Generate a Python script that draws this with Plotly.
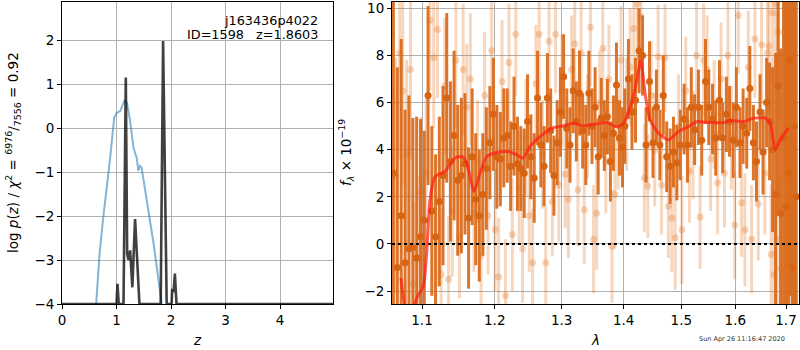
import plotly.graph_objects as go

# ---------------- left panel: p(z) ----------------
blue_z = [0.61, 0.628, 0.689, 0.75, 0.811, 0.884, 0.957, 1.006, 1.067, 1.14, 1.19, 1.25, 1.31, 1.37, 1.40, 1.43, 1.46, 1.55, 1.68, 1.83, 1.85]
blue_lnp = [-4.3, -4.0, -2.86, -2.1, -1.50, -0.67, 0.24, 0.35, 0.39, 0.62, 0.58, 0.16, -0.44, -0.67, -0.97, -0.86, -0.90, -1.65, -2.63, -4.0, -4.3]

black_z = [0.0, 1.0, 1.018, 1.04, 1.128, 1.17, 1.195, 1.22, 1.25, 1.29, 1.34, 1.42, 1.81, 1.854, 1.92, 2.01, 2.02, 2.045, 2.055, 2.07, 2.10, 4.97]
black_lnp = [-4.0, -4.0, -3.54, -4.0, -4.0, 1.15, -2.86, -3.0, -2.78, -3.62, -2.07, -4.0, -4.0, 1.98, -4.0, -4.0, -3.69, -3.7, -3.58, -3.31, -4.0, -4.0]

# ---------------- right panel: spectrum ----------------
model_lam = [1.0727, 1.0800, 1.0870, 1.0930, 1.1017, 1.1062, 1.1106, 1.1172, 1.1307, 1.1443, 1.1535,
             1.1604, 1.1706, 1.1790, 1.1885, 1.2028, 1.2197, 1.2320, 1.2409, 1.2518, 1.2669,
             1.2848, 1.3028, 1.3185, 1.3344, 1.3559, 1.3722, 1.3887, 1.3998, 1.4110, 1.4224,
             1.4289, 1.4363, 1.4450, 1.4595, 1.4771, 1.4949, 1.5129, 1.5281, 1.5524, 1.5774,
             1.5901, 1.6156, 1.6351, 1.6581, 1.6681, 1.6781, 1.6882, 1.7050]
model_flux = [-1.44, -2.9, -2.8, -2.3, -1.8, -0.37, 1.88, 2.86, 3.08, 3.65, 3.71,
              3.43, 2.23, 3.0, 3.71, 3.88, 3.92, 3.78, 3.64, 4.14, 4.56,
              4.92, 5.01, 5.12, 5.01, 5.10, 5.15, 4.96, 5.12, 5.83, 6.96,
              7.81, 6.40, 5.27, 4.70, 4.42, 4.77, 4.98, 5.19, 5.15, 5.15,
              5.24, 5.19, 5.34, 5.34, 5.12, 4.0, 4.42, 4.92]

dark_lam = [1.063, 1.068, 1.073, 1.078, 1.083, 1.088, 1.093, 1.098,
            1.103, 1.108, 1.113, 1.118, 1.123, 1.128, 1.133, 1.138, 1.143, 1.148,
            1.153, 1.158, 1.163, 1.168, 1.173, 1.178, 1.183, 1.188, 1.193, 1.198,
            1.203, 1.208, 1.213, 1.218, 1.223, 1.228, 1.233, 1.238, 1.243, 1.248,
            1.253, 1.258, 1.263, 1.268, 1.273, 1.278, 1.283, 1.288, 1.293, 1.298,
            1.303, 1.308, 1.313, 1.318, 1.323, 1.328, 1.333, 1.338, 1.343, 1.348,
            1.353, 1.358, 1.363, 1.368, 1.373, 1.378, 1.383, 1.388, 1.393, 1.398,
            1.402, 1.408, 1.414, 1.420, 1.426, 1.432, 1.438, 1.444, 1.450, 1.456,
            1.462, 1.468, 1.474, 1.480, 1.486, 1.492, 1.498,
            1.505, 1.511, 1.518, 1.524, 1.531, 1.537, 1.544, 1.550, 1.557, 1.563,
            1.570, 1.576, 1.583, 1.589, 1.596, 1.602, 1.609, 1.615, 1.622, 1.628,
            1.635, 1.641, 1.648, 1.654, 1.661,
            1.667, 1.673, 1.679, 1.684, 1.689, 1.695, 1.700, 1.705, 1.709, 1.713, 1.717, 1.721]
dark_flux = [3.0, -1.0, 1.2, -0.8, -0.2, -0.15, -0.6, 0.3,
             1.0, 6.3, 1.4, 0.3, 1.8, 2.9, 6.2, 3.5, 4.6, 2.7,
             2.9, 3.4, 1.1, 3.7, 1.9, 1.2, 2.1, 3.2, 4.3, 5.5,
             3.7, 3.6, 4.5, 4.6, 3.3, 5.0, 3.4, 3.2, 3.0, 5.2,
             3.7, 2.8, 6.2, 4.2, 3.3, 6.2, 4.8, 2.9, 4.3, 5.6,
             7.1, 4.9, 4.2, 6.5, 5.2, 6.4, 4.8, 4.2, 6.4, 5.0,
             5.8, 3.7, 5.35, 4.6, 5.4, 3.5, 4.7, 6.75, 4.5, 4.1,
             5.0, 7.0, 5.6, 6.1, 8.2, 8.0, 4.2, 6.9, 4.3, 5.8,
             4.2, 6.3, 3.7, 3.3, 3.9, 3.45, 4.2,
             5.3, 4.2, 5.8, 4.85, 5.8, 4.4, 6.9, 5.8, 5.3, 4.5,
             6.1, 4.5, 5.5, 5.2, 4.4, 5.8, 4.3, 5.0, 4.7, 6.6,
             4.3, 3.5, 5.6, 3.9, 6.0,
             5.2, 4.0, 2.1, 6.7, 1.3, 4.5, 1.6, 3.0, 7.8, -1.0, 5.0, 2.0]
dark_err = [12.0, 8.5, 7.5, 6.5, 6.5, 5.5, 6.0, 5.0,
            3.8, 3.8, 3.6, 3.5, 3.6, 3.8, 3.6, 3.4, 3.6, 3.2,
            3.3, 3.0, 3.0, 2.9, 2.8, 2.8, 2.6, 2.6, 2.4, 2.4,
            2.2, 2.0, 2.1, 2.0, 1.9, 2.1, 2.0, 1.8, 1.9, 2.0,
            1.8, 1.9, 2.0, 1.8, 1.7, 1.9, 1.8, 1.7, 1.8, 1.9,
            1.8, 1.7, 1.6, 1.8, 1.7, 1.8, 1.6, 1.7, 1.8, 1.6,
            1.7, 1.6, 1.7, 1.5, 1.6, 1.7, 1.6, 1.8, 1.6, 1.7,
            1.6, 1.7, 1.6, 1.8, 1.8, 1.7, 1.6, 1.7, 1.5, 1.6,
            1.5, 1.7, 1.5, 1.6, 1.5, 1.6, 1.5,
            1.5, 1.6, 1.7, 1.5, 1.6, 1.5, 1.8, 1.6, 1.5, 1.6,
            1.7, 1.5, 1.6, 1.5, 1.6, 1.7, 1.5, 1.6, 1.5, 1.8,
            1.6, 1.7, 1.6, 1.8, 1.9,
            2.5, 3.5, 6.0, 5.5, 7.0, 8.0, 9.0, 9.0, 10.0, 12.0, 12.0, 12.0]

light_lam = [1.066, 1.071, 1.075, 1.080, 1.085, 1.089, 1.094, 1.099,
             1.1005, 1.1055, 1.1105, 1.1155, 1.1205, 1.1255, 1.1305, 1.1355, 1.1405, 1.1455,
             1.1505, 1.1555, 1.1605, 1.1655, 1.1705, 1.1755, 1.1805, 1.1855, 1.1905, 1.1955,
             1.2005, 1.2055, 1.2105, 1.2155, 1.2205, 1.2255, 1.2305, 1.2355, 1.2405, 1.2455,
             1.2505, 1.2555, 1.2605, 1.2655, 1.2705, 1.2755, 1.2805, 1.2855, 1.2905, 1.2955,
             1.3005, 1.3055, 1.3105, 1.3155, 1.3205, 1.3255, 1.3305, 1.3355, 1.3405, 1.3455,
             1.3505, 1.3555, 1.3605, 1.3655, 1.3705, 1.3755, 1.3805, 1.3855, 1.3905, 1.3955,
             1.405, 1.411, 1.417, 1.423, 1.429, 1.435, 1.441, 1.447, 1.453, 1.459,
             1.465, 1.471, 1.477, 1.483, 1.489, 1.495, 1.501,
             1.508, 1.5145, 1.521, 1.5275, 1.534, 1.5405, 1.547, 1.5535, 1.560, 1.5665,
             1.573, 1.5795, 1.586, 1.5925, 1.599, 1.6055, 1.612, 1.6185, 1.625, 1.6315,
             1.638, 1.6445, 1.651, 1.6575, 1.663,
             1.666, 1.670, 1.673, 1.676, 1.679, 1.682, 1.685, 1.690, 1.696, 1.702, 1.708, 1.714]
light_flux = [2.9, 8.1, 6.5, 3.8, 7.4, -1.7, -0.6, 2.2,
              -0.6, 3.0, 9.5, 7.9, 9.1, -1.3, 6.7, -1.5, 1.4, 7.8,
              0.3, 7.4, 5.8, 7.0, 1.3, 3.5, -0.5, 6.3, 1.2, 8.2,
              0.6, -1.4, 6.9, -2.2, 7.7, 0.4, 8.9, 2.4, -0.2, 4.5,
              1.2, -0.8, 6.8, 8.9, 3.8, -0.8, 8.6, 1.8, 8.9, 2.5,
              6.5, 2.96, 1.9, 7.4, 8.5, 2.3, 8.1, 1.45, 5.0, 9.2,
              0.2, 1.3, 6.0, 8.3, 3.5, 7.0, -0.1, 2.1, 4.5, 7.8,
              5.5, 7.5, 9.15, 10.2, 9.65, 2.8, 2.45, 6.3, 4.0, 7.95,
              2.5, 7.9, 1.6, 1.1, 0.26, 5.0, 0.6,
              6.5, 3.1, 4.2, 8.0, 1.14, 7.8, 7.4, 3.6, 5.5, 2.6,
              7.0, 3.0, 8.0, 4.5, 0.8, 9.7, 1.75, 0.6, 7.5, 0.2,
              8.7, 1.7, 8.45, 3.0, 8.1,
              8.4, -0.45, 9.8, -1.3, 10.2, 0.2, 9.0, -1.05, 8.0, 5.0, 3.0, 6.0]
light_err = [5.0, 4.5, 4.0, 4.0, 3.8, 3.5, 3.5, 3.2,
             3.5, 3.2, 3.0, 3.0, 2.9, 2.8, 2.9, 2.7, 2.8, 2.9,
             2.6, 2.8, 2.7, 2.8, 2.5, 2.6, 2.5, 2.7, 2.5, 2.6,
             2.6, 2.5, 2.6, 2.4, 2.5, 2.4, 2.6, 2.4, 2.3, 2.5,
             2.4, 2.3, 2.5, 2.6, 2.3, 2.4, 2.6, 2.3, 2.5, 2.4,
             2.4, 2.3, 2.5, 2.3, 2.5, 2.4, 2.4, 2.3, 2.2, 2.5,
             2.3, 2.4, 2.2, 2.4, 2.2, 2.3, 2.4, 2.3, 2.2, 2.3,
             2.4, 2.5, 2.5, 2.4, 2.2, 2.3, 2.2, 2.3, 2.4, 2.2,
             2.1, 2.3, 2.2, 2.3, 2.2, 2.2, 2.3,
             2.3, 2.2, 2.3, 2.4, 2.2, 2.4, 2.3, 2.2, 2.3, 2.2,
             2.4, 2.3, 2.4, 2.2, 2.3, 2.5, 2.3, 2.4, 2.4, 2.3,
             2.5, 2.4, 2.5, 2.6, 2.7,
             2.8, 3.0, 3.0, 3.2, 3.5, 3.5, 3.8, 4.0, 5.0, 6.0, 7.0, 8.0]

assert len(dark_lam) == len(dark_flux) == len(dark_err)
assert len(light_lam) == len(light_flux) == len(light_err)

lam_range = [1.0612, 1.7267]
lam_ticks = [1.1, 1.2, 1.3, 1.4, 1.5, 1.6, 1.7]
flux_ticks = [-2, 0, 2, 4, 6, 8, 10]
z_ticks = [0, 1, 2, 3, 4]
lnp_ticks = [-4, -3, -2, -1, 0, 1, 2]

FONT = "DejaVu Sans"
DARK = "rgba(217,104,24,0.92)"
LIGHT = "rgba(230,120,40,0.3)"

fig = go.Figure()

fig.add_trace(go.Scatter(x=blue_z, y=blue_lnp, mode="lines",
                         line=dict(color="rgba(31,119,180,0.55)", width=2),
                         xaxis="x", yaxis="y", showlegend=False))
fig.add_trace(go.Scatter(x=black_z, y=black_lnp, mode="lines",
                         line=dict(color="rgba(0,0,0,0.75)", width=2.6),
                         xaxis="x", yaxis="y", showlegend=False))

fig.add_trace(go.Scatter(x=light_lam, y=light_flux, mode="markers",
                         marker=dict(size=7, color=LIGHT, line=dict(width=0)),
                         error_y=dict(type="data", array=light_err, visible=True,
                                      thickness=3, width=0, color=LIGHT),
                         xaxis="x2", yaxis="y2", showlegend=False))
fig.add_trace(go.Scatter(x=dark_lam, y=dark_flux, mode="markers",
                         marker=dict(size=7, color="rgb(214,100,18)", line=dict(width=0)),
                         error_y=dict(type="data", array=dark_err, visible=True,
                                      thickness=3, width=0, color=DARK),
                         xaxis="x2", yaxis="y2", showlegend=False))
fig.add_trace(go.Scatter(x=lam_range, y=[0, 0], mode="lines",
                         line=dict(color="black", width=2, dash="dot"),
                         xaxis="x2", yaxis="y2", showlegend=False))
fig.add_trace(go.Scatter(x=model_lam, y=model_flux, mode="lines",
                         line=dict(color="rgba(255,30,20,0.72)", width=3, shape="spline", smoothing=0.6),
                         xaxis="x2", yaxis="y2", showlegend=False))

ydom = [46 / 350, 348 / 350]
common = dict(showgrid=True, gridcolor="#b0b0b0", gridwidth=1, zeroline=False,
              showline=True, linecolor="black", linewidth=1, mirror=True,
              ticks="outside", ticklen=4, tickwidth=1, tickcolor="black",
              automargin=False, tickfont=dict(family=FONT, size=13.5, color="black"))

fig.update_layout(
    width=800, height=350,
    margin=dict(l=0, r=0, t=0, b=0),
    paper_bgcolor="white", plot_bgcolor="white",
    xaxis=dict(domain=[62 / 800, 333 / 800], range=[0, 4.97], tickvals=z_ticks, anchor="y", **common),
    yaxis=dict(domain=ydom, range=[-4, 2.87], tickvals=lnp_ticks, anchor="x", **common),
    xaxis2=dict(domain=[392 / 800, 799 / 800], type="log",
                range=[0.02581, 0.23720], tickvals=lam_ticks,
                ticktext=[f"{v:.1f}" for v in lam_ticks], anchor="y2", **common),
    yaxis2=dict(domain=ydom, range=[-2.55, 10.27], tickvals=flux_ticks, anchor="x2", **common),
    font=dict(family=FONT, size=13.5, color="black"),
)

ann_font = dict(family=FONT, size=12.8, color="black")
fig.add_annotation(x=320 / 800, y=1 - 20 / 350, xref="paper", yref="paper",
                   text="j163436p4022", showarrow=False, xanchor="right", yanchor="middle", font=ann_font)
fig.add_annotation(x=320 / 800, y=1 - 35 / 350, xref="paper", yref="paper",
                   text="ID=1598\u00a0\u00a0\u00a0z=1.8603", showarrow=False, xanchor="right", yanchor="middle", font=ann_font)
title_font = dict(family=FONT, size=13.5, color="black")
fig.add_annotation(x=197 / 800, y=1 - 340 / 350, xref="paper", yref="paper",
                   text="<i>z</i>", showarrow=False, xanchor="center", yanchor="middle", font=title_font)
fig.add_annotation(x=595 / 800, y=1 - 340 / 350, xref="paper", yref="paper",
                   text="<i>λ</i>", showarrow=False, xanchor="center", yanchor="middle", font=title_font)
fig.add_annotation(x=13 / 800, y=1 - 153 / 350, xref="paper", yref="paper",
                   text="log <i>p</i>(<i>z</i>) / <i>χ</i><sup>2</sup> = <sup>6976</sup>/<sub>7556</sub> = 0.92",
                   showarrow=False, textangle=-90, xanchor="center", yanchor="middle", font=title_font)
fig.add_annotation(x=346 / 800, y=1 - 153 / 350, xref="paper", yref="paper",
                   text="<i>f</i><sub><i>λ</i></sub> × 10<sup>−19</sup>",
                   showarrow=False, textangle=-90, xanchor="center", yanchor="middle", font=title_font)
fig.add_annotation(x=742 / 800, y=1 - 339 / 350, xref="paper", yref="paper",
                   text="Sun Apr 26 11:16:47 2020", showarrow=False, xanchor="center", yanchor="middle",
                   font=dict(family=FONT, size=6.5, color="#333333"))

fig.write_html("out.html", config={"displayModeBar": False},
               post_script="document.body.style.margin='0';document.body.style.overflow='hidden';")
